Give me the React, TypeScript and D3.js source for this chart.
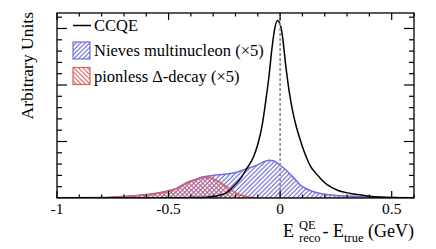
import React from "react";
import * as d3 from "d3";

const ccqeX = [-1, -0.6, -0.45, -0.38, -0.33, -0.3, -0.27, -0.24, -0.21, -0.18, -0.15, -0.12, -0.1, -0.08, -0.065, -0.05, -0.038, -0.025, -0.012, 0.0, 0.01, 0.025, 0.04, 0.055, 0.07, 0.09, 0.105, 0.12, 0.135, 0.16, 0.18, 0.2, 0.225, 0.25, 0.27, 0.31, 0.35, 0.39, 0.46, 0.53, 0.6];
const ccqeY = [0, 0, 0.003, 0.008, 0.015, 0.025, 0.05, 0.09, 0.2, 0.33, 0.52, 0.72, 0.95, 1.3, 1.7, 2.15, 2.6, 2.98, 3.14, 3.07, 2.88, 2.35, 1.9, 1.56, 1.3, 1.03, 0.85, 0.7, 0.57, 0.44, 0.35, 0.27, 0.2, 0.15, 0.12, 0.085, 0.06, 0.035, 0.012, 0.006, 0.003];

const nievesX = [-1, -0.8, -0.66, -0.57, -0.51, -0.46, -0.42, -0.38, -0.35, -0.3, -0.25, -0.2, -0.15, -0.11, -0.08, -0.05, -0.03, 0, 0.025, 0.045, 0.07, 0.09, 0.12, 0.15, 0.2, 0.25, 0.3, 0.4, 0.5, 0.6];
const nievesY = [0.005, 0.008, 0.04, 0.075, 0.12, 0.18, 0.27, 0.33, 0.37, 0.4, 0.42, 0.45, 0.52, 0.57, 0.63, 0.67, 0.66, 0.58, 0.5, 0.42, 0.32, 0.23, 0.16, 0.11, 0.065, 0.045, 0.035, 0.02, 0.01, 0.005];

const deltaX = [-1, -0.8, -0.66, -0.57, -0.51, -0.46, -0.42, -0.38, -0.345, -0.315, -0.285, -0.24, -0.195, -0.16, -0.135, -0.1, -0.06, 0, 0.6];
const deltaY = [0.005, 0.006, 0.035, 0.07, 0.11, 0.17, 0.26, 0.32, 0.36, 0.36, 0.31, 0.2, 0.083, 0.035, 0.012, 0.004, 0.0, 0.0, 0.0];

const xTicksMajor = [-1, -0.5, 0, 0.5];
const xTickLabels = ["-1", "-0.5", "0", "0.5"];
const xDomain = [-1, 0.6];
const yDomain = [0, 3.274];
const legendLabels = ["CCQE", "Nieves multinucleon (\u00d75)", "pionless \u0394-decay (\u00d75)"];

const W = 436, H = 249;
const L = 57, R = 414, T = 13, B = 198;
const BLUE = "#6f6fe0";
const RED = "#d86060";
const ts: React.CSSProperties = { fontFamily: "Liberation Serif" };

export default function App() {
  const x = d3.scaleLinear().domain(xDomain).range([L, R]);
  const y = d3.scaleLinear().domain(yDomain).range([B, T]);

  const line = d3.line<[number, number]>().x(d => x(d[0])).y(d => y(d[1])).curve(d3.curveMonotoneX);
  const area = d3.area<[number, number]>().x(d => x(d[0])).y0(y(0)).y1(d => y(d[1])).curve(d3.curveMonotoneX);

  const ccqe = ccqeX.map((v, i) => [v, ccqeY[i]] as [number, number]);
  const niev = nievesX.map((v, i) => [v, nievesY[i]] as [number, number]);
  const delt = deltaX.map((v, i) => [v, deltaY[i]] as [number, number]);

  const xMinor = d3.range(-1, 0.6001, 0.1).map(v => Math.round(v * 10) / 10).filter(v => !xTicksMajor.includes(v));
  const yMajor = d3.range(1, 3.01, 1);
  const yMinor = d3.range(0.2, 3.274, 0.2).map(v => Math.round(v * 10) / 10).filter(v => Math.abs(v - Math.round(v)) > 1e-6);

  return (
    <svg width={W} height={H} style={{ position: "absolute", left: 0, top: 0 }} xmlns="http://www.w3.org/2000/svg">
      <defs>
        <pattern id="hBlue" patternUnits="userSpaceOnUse" width={3.2} height={3.2} patternTransform="rotate(45)">
          <line x1={1} y1={0} x2={1} y2={3.2} stroke="#5a5ad8" strokeWidth={1} />
        </pattern>
        <pattern id="hRed" patternUnits="userSpaceOnUse" width={3.2} height={3.2} patternTransform="rotate(-45)">
          <line x1={1} y1={0} x2={1} y2={3.2} stroke="#d85050" strokeWidth={1} />
        </pattern>
        <clipPath id="plotClip"><rect x={L} y={T} width={R - L} height={B - T} /></clipPath>
      </defs>
      <rect width={W} height={H} fill="white" />
      <g clipPath="url(#plotClip)">
        <path d={area(niev) || ""} fill="url(#hBlue)" />
        <path d={line(niev) || ""} fill="none" stroke={BLUE} strokeWidth={1.5} />
        <path d={area(delt) || ""} fill="url(#hRed)" />
        <path d={line(delt) || ""} fill="none" stroke={RED} strokeWidth={1.5} />
        <path d={line(ccqe) || ""} fill="none" stroke="black" strokeWidth={1.5} />
      </g>
      <line x1={x(0)} x2={x(0)} y1={T} y2={B} stroke="#8a8a8a" strokeWidth={1.6} strokeDasharray="3,2" />
      <rect x={L} y={T} width={R - L} height={B - T} fill="none" stroke="black" strokeWidth={1.3} />
      {xTicksMajor.map(v => (
        <g key={"xM" + v}>
          <line x1={x(v)} x2={x(v)} y1={B} y2={B - 7} stroke="black" strokeWidth={1.2} />
          <line x1={x(v)} x2={x(v)} y1={T} y2={T + 7} stroke="black" strokeWidth={1.2} />
        </g>
      ))}
      {xMinor.map(v => (
        <g key={"xm" + v}>
          <line x1={x(v)} x2={x(v)} y1={B} y2={B - 3.5} stroke="black" strokeWidth={1.2} />
          <line x1={x(v)} x2={x(v)} y1={T} y2={T + 3.5} stroke="black" strokeWidth={1.2} />
        </g>
      ))}
      {yMajor.map(v => (
        <g key={"yM" + v}>
          <line x1={L} x2={L + 10} y1={y(v)} y2={y(v)} stroke="black" strokeWidth={1.2} />
          <line x1={R} x2={R - 10} y1={y(v)} y2={y(v)} stroke="black" strokeWidth={1.2} />
        </g>
      ))}
      {yMinor.map(v => (
        <g key={"ym" + v}>
          <line x1={L} x2={L + 5} y1={y(v)} y2={y(v)} stroke="black" strokeWidth={1.2} />
          <line x1={R} x2={R - 5} y1={y(v)} y2={y(v)} stroke="black" strokeWidth={1.2} />
        </g>
      ))}
      {xTicksMajor.map((v, i) => (
        <text key={"xl" + v} x={x(v)} y={213.5} textAnchor="middle" style={ts} fontSize={15.5} fill="black">{xTickLabels[i]}</text>
      ))}
      <text transform={`translate(33,12) rotate(-90)`} textAnchor="end" style={ts} fontSize={17.5} fill="black">Arbitrary Units</text>
      <g fill="black">
        <text x={283} y={237} fontSize={18} style={ts}>E</text>
        <text x={299} y={229} fontSize={12.5} style={ts}>QE</text>
        <text x={299} y={241.5} fontSize={12.5} style={ts}>reco</text>
        <text x={R} y={237} fontSize={18} textAnchor="end" style={ts}>
          <tspan>- E</tspan>
          <tspan fontSize={12.5} dy={4.5}>true</tspan>
          <tspan dy={-4.5}> (GeV)</tspan>
        </text>
      </g>
      <g fontSize={16.5} fill="black">
        <line x1={73} x2={91} y1={25.5} y2={25.5} stroke="black" strokeWidth={1.5} />
        <text x={94} y={31} style={ts}>{legendLabels[0]}</text>
        <rect x={73} y={42} width={17} height={17} fill="url(#hBlue)" stroke={BLUE} strokeWidth={1.2} />
        <text x={94} y={56} style={ts}>{legendLabels[1]}</text>
        <rect x={73} y={67.5} width={17} height={17} fill="url(#hRed)" stroke={RED} strokeWidth={1.2} />
        <text x={94} y={81.5} style={ts}>{legendLabels[2]}</text>
      </g>
    </svg>
  );
}
